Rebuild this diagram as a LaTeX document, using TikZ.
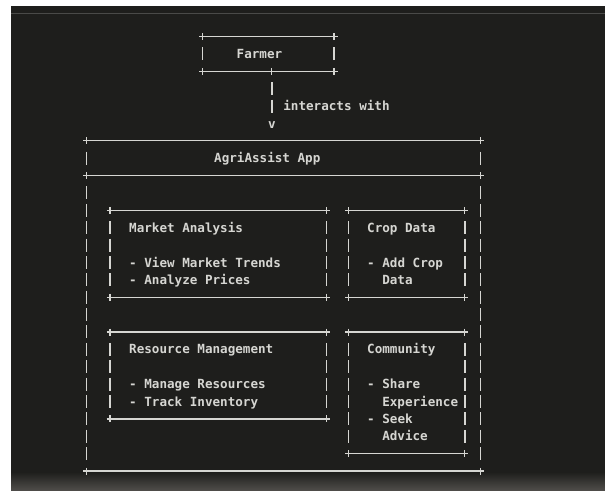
\documentclass[tikz,border=0pt]{standalone}
\usepackage{fontspec}
\usepackage{xcolor}
\usepackage{tikz}
\usetikzlibrary{calc}
\newfontfamily\termfont{DejaVu Sans Mono}
\definecolor{termbg}{RGB}{30,30,28}
\definecolor{termfg}{RGB}{214,214,210}
\definecolor{termfoot}{RGB}{78,76,73}
\definecolor{termrule}{RGB}{74,74,72}

\begin{document}
\begin{tikzpicture}[x=1pt,y=-1pt,
    box/.style={rectangle,inner sep=0pt,outer sep=0pt},
    rule/.style={termfg,line width=1.2pt},
    pipe/.style={termfg,line width=1.4pt,dash pattern=on 13pt off 4.38pt},
    txt/.style={font=\termfont\bfseries\fontsize{12.6}{17.4}\selectfont,text=termfg,inner sep=0pt,anchor=west,text height=9.2pt,text depth=0pt}]
  \useasboundingbox (0,0) rectangle (605,490);
  \fill[white] (0,0) rectangle (605,490);
  \fill[termbg] (11,6) rectangle (605,490);
  \draw[termrule,line width=1pt] (11,13) -- (605,13);
  \shade[top color=termbg,bottom color=termfoot] (11,472) rectangle (605,490);

  \node[box,minimum width=131.3pt,minimum height=34.8pt] (farmer) at (268.35,53.9) {};
  \node[box,minimum width=394pt,minimum height=330.2pt] (app) at (283.5,305.9) {};
  \node[box,minimum width=216.5pt,minimum height=86.9pt] (market) at (218.25,253.75) {};
  \node[box,minimum width=116.3pt,minimum height=86.9pt] (crop) at (406.65,253.75) {};
  \node[box,minimum width=216.5pt,minimum height=86.9pt] (resource) at (218.25,375.45) {};
  \node[box,minimum width=116.3pt,minimum height=121.6pt] (community) at (406.65,392.8) {};
  \coordinate (appdivw) at (86.5,175.5);
  \coordinate (appdive) at (480.5,175.5);

  \foreach \b in {farmer,app,market,crop,resource,community}{
    \draw[rule] (\b.north west) -- (\b.north east) (\b.south west) -- (\b.south east);
    \foreach \a in {north west,north east,south west,south east}
      \draw[rule] (\b.\a) ++(-3.5,0) -- ++(7,0) ++(-3.5,-3.5) -- ++(0,7);
  }
  \foreach \b in {farmer,market,crop,resource,community}{
    \draw[pipe] ([yshift=-10.88pt]\b.north west) -- ([yshift=10.88pt]\b.south west);
    \draw[pipe] ([yshift=-10.88pt]\b.north east) -- ([yshift=10.88pt]\b.south east);
  }
  \draw[rule] (appdivw) -- (appdive);
  \foreach \s/\c in {west/appdivw,east/appdive}{
    \draw[pipe] ([yshift=-10.88pt]app.north \s) -- ([yshift=10.88pt]\c);
    \draw[pipe] ([yshift=-10.88pt]\c) -- ([yshift=10.88pt]app.south \s);
    \draw[rule] (\c) ++(-3.5,0) -- ++(7,0) ++(-3.5,-3.5) -- ++(0,7);
  }

  \node[txt] (farmerlbl) at (236.5,53.9) {Farmer};
  \node[txt] (arrowv) at (267.9,123.4) {v};
  \coordinate (tee) at (farmer.south -| arrowv);
  \draw[rule] (tee) ++(-3.5,0) -- ++(7,0) ++(-3.5,-3.5) -- ++(0,7);
  \draw[pipe] ([yshift=-10.88pt]tee) -- ([yshift=10.88pt]arrowv.center);
  \node[txt] (interacts) at (283.2,106.0) {interacts with};

  \node[txt] (applbl) at (214,158.2) {AgriAssist App};
  \foreach \y/\t [count=\i] in {227.7/Market Analysis,262.4/- View Market Trends,279.8/- Analyze Prices}
    \node[txt] (market-\i) at (129,\y) {\t};
  \foreach \x/\y/\t [count=\i] in {367/227.7/Crop Data,367/262.4/- Add Crop,382.1/279.8/Data}
    \node[txt] (crop-\i) at (\x,\y) {\t};
  \foreach \y/\t [count=\i] in {349.3/Resource Management,384.1/- Manage Resources,401.5/- Track Inventory}
    \node[txt] (resource-\i) at (129,\y) {\t};
  \foreach \x/\y/\t [count=\i] in {367/349.3/Community,367/384.1/- Share,382.1/401.5/Experience,367/418.9/- Seek,382.1/436.2/Advice}
    \node[txt] (community-\i) at (\x,\y) {\t};
\end{tikzpicture}
\end{document}
